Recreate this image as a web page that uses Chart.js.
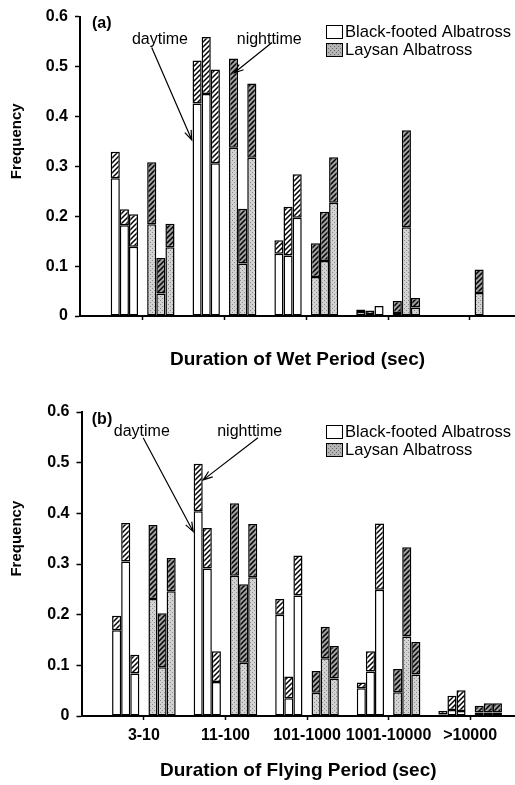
<!DOCTYPE html>
<html>
<head>
<meta charset="utf-8">
<script src="https://cdn.jsdelivr.net/npm/chart.js@4.4.1/dist/chart.umd.min.js"></script>
<style>
  body { margin: 0; background: #fff; }
  canvas { display: block; }
</style>
</head>
<body>
<canvas id="wetChart" width="515" height="380"></canvas>
<canvas id="flyChart" width="515" height="405"></canvas>
<script>
const categories = ['3-10', '11-100', '101-1000', '1001-10000', '>10000'];
const species = ['Black-footed Albatross', 'Laysan Albatross'];

// (a) wet period - full bar height (day + night), three bars per species
const wetTotalBF = [
  [0.329, 0.512, 0.152, 0.013, 0],
  [0.214, 0.559, 0.219, 0.011, 0],
  [0.204, 0.494, 0.284, 0.020, 0]
];
const wetDayBF = [
  [0.276, 0.426, 0.125, 0.008, 0],
  [0.182, 0.445, 0.121, 0.004, 0],
  [0.139, 0.306, 0.197, 0.020, 0]
];
const wetTotalLA = [
  [0.308, 0.516, 0.146, 0.030, 0.093],
  [0.116, 0.215, 0.209, 0.372, 0],
  [0.185, 0.466, 0.318, 0.036, 0]
];
const wetDayLA = [
  [0.184, 0.337, 0.078, 0.006, 0.046],
  [0.045, 0.105, 0.110, 0.178, 0],
  [0.138, 0.317, 0.227, 0.017, 0]
];

// (b) flying period
const flyTotalBF = [
  [0.198, 0.498, 0.231, 0.066, 0.010],
  [0.381, 0.371, 0.078, 0.128, 0.040],
  [0.121, 0.128, 0.317, 0.380, 0.051]
];
const flyDayBF = [
  [0.169, 0.404, 0.200, 0.055, 0.003],
  [0.305, 0.291, 0.035, 0.088, 0.012],
  [0.084, 0.067, 0.238, 0.249, 0.010]
];
const flyTotalLA = [
  [0.377, 0.420, 0.089, 0.093, 0.020],
  [0.203, 0.260, 0.176, 0.333, 0.025],
  [0.312, 0.379, 0.138, 0.146, 0.025]
];
const flyDayLA = [
  [0.231, 0.277, 0.046, 0.047, 0.007],
  [0.096, 0.105, 0.114, 0.157, 0.007],
  [0.246, 0.274, 0.074, 0.082, 0.007]
];

const FONT = '"Liberation Sans", Arial, sans-serif';
Chart.defaults.font.family = FONT;
Chart.defaults.color = '#000';

// fill patterns
function hatch(bg) {
  const c = document.createElement('canvas');
  c.width = c.height = 5;
  const g = c.getContext('2d');
  g.fillStyle = bg;
  g.fillRect(0, 0, 5, 5);
  g.strokeStyle = '#000';
  g.lineWidth = 1.5;
  g.beginPath();
  g.moveTo(-1, 6); g.lineTo(6, -1);
  g.moveTo(-1, 1); g.lineTo(1, -1);
  g.moveTo(4, 6); g.lineTo(6, 4);
  g.stroke();
  return g.createPattern(c, 'repeat');
}
function stipple(bg, dot) {
  const c = document.createElement('canvas');
  c.width = c.height = 4;
  const g = c.getContext('2d');
  g.fillStyle = bg;
  g.fillRect(0, 0, 4, 4);
  g.fillStyle = dot;
  g.fillRect(0, 0, 1, 1);
  g.fillRect(2, 2, 1, 1);
  return g.createPattern(c, 'repeat');
}
const nightBF = hatch('#ffffff');
const nightLA = hatch('#a0a0a0');
const dayLA = stipple('#d2d2d2', '#8a8a8a');
const legendLA = stipple('#b4b4b4', '#666666');

function buildDatasets(totBF, dayBF, totLA, dayLA_) {
  const sets = [];
  const addBar = (tot, day, stack, dayFill, nightFill, name) => {
    sets.push({
      label: name + ' daytime', stack, backgroundColor: dayFill,
      data: categories.map((c, i) => ({ x: i + 1, y: tot[i] ? day[i] : null }))
    });
    sets.push({
      label: name + ' nighttime', stack, backgroundColor: nightFill,
      data: categories.map((c, i) => ({ x: i + 1, y: tot[i] ? +(tot[i] - day[i]).toFixed(3) : null }))
    });
  };
  totBF.forEach((t, k) => addBar(t, dayBF[k], 'bf' + k, '#ffffff', nightBF, species[0]));
  // empty slot between the two species
  sets.push({ label: 'gap', stack: 'gap', data: categories.map((c, i) => ({ x: i + 1, y: null })) });
  totLA.forEach((t, k) => addBar(t, dayLA_[k], 'la' + k, dayLA, nightLA, species[1]));
  return sets;
}

function drawArrow(ctx, from, to) {
  ctx.beginPath();
  ctx.moveTo(from[0], from[1]);
  ctx.lineTo(to[0], to[1]);
  const a = Math.atan2(to[1] - from[1], to[0] - from[0]);
  const L = 10;
  ctx.moveTo(to[0] - L * Math.cos(a - 0.35), to[1] - L * Math.sin(a - 0.35));
  ctx.lineTo(to[0], to[1]);
  ctx.lineTo(to[0] - L * Math.cos(a + 0.35), to[1] - L * Math.sin(a + 0.35));
  ctx.stroke();
}

function notesPlugin(n) {
  return {
    id: 'notes',
    afterDraw(chart) {
      const { ctx, scales: { x, y } } = chart;
      const px = (p) => [x.getPixelForValue(p[0]), y.getPixelForValue(p[1])];
      ctx.save();
      ctx.fillStyle = '#000';
      ctx.strokeStyle = '#000';
      ctx.lineWidth = 1.2;
      ctx.textBaseline = 'middle';
      ctx.textAlign = 'left';
      ctx.font = 'bold 16px ' + FONT;
      const p = px(n.letterAt);
      ctx.fillText(n.letter, p[0], p[1]);
      ctx.font = '16px ' + FONT;
      [n.day, n.night].forEach(a => {
        const l = px(a.label);
        ctx.fillText(a.text, l[0], l[1]);
        drawArrow(ctx, px(a.from), px(a.to));
      });
      // legend
      const lg = px(n.legendAt);
      ctx.font = '16.6px ' + FONT;
      species.forEach((s, k) => {
        const bx = Math.round(lg[0]), by = Math.round(lg[1]) + k * 18;
        ctx.fillStyle = k ? legendLA : '#fff';
        ctx.fillRect(bx, by, 16, 13);
        ctx.lineWidth = 1;
        ctx.strokeRect(bx + 0.5, by + 0.5, 16, 13);
        ctx.fillStyle = '#000';
        ctx.fillText(s, bx + 19, by + 7);
      });
      // y axis title
      ctx.translate(16.5, y.getPixelForValue(0.35));
      ctx.rotate(-Math.PI / 2);
      ctx.textAlign = 'center';
      ctx.font = 'bold 15px ' + FONT;
      ctx.fillText('Frequency', 0, 0);
      ctx.restore();
    }
  };
}

function makeChart(id, datasets, cfg) {
  return new Chart(document.getElementById(id), {
    type: 'bar',
    data: { datasets },
    options: {
      responsive: false,
      animation: false,
      layout: { padding: { top: cfg.padTop, left: 0, right: 0, bottom: 0 } },
      plugins: { legend: { display: false }, tooltip: { enabled: false } },
      datasets: {
        bar: {
          barPercentage: 1,
          categoryPercentage: 0.78,
          borderColor: '#000',
          borderWidth: 1.5,
          borderSkipped: false
        }
      },
      scales: {
        x: {
          type: 'linear',
          offset: false,
          min: 0.235,
          max: 5.55,
          afterBuildTicks: s => { s.ticks = categories.map((c, i) => ({ value: i + 1 })); },
          afterFit: s => { s.height = cfg.xHeight; },
          ticks: {
            autoSkip: false, maxRotation: 0, minRotation: 0, padding: 6,
            font: { size: 16, weight: 'bold' }, color: '#000',
            callback: v => cfg.showLabels ? categories[v - 1] : ''
          },
          grid: { offset: false, drawOnChartArea: false, tickLength: 4, tickWidth: 1.5, tickColor: '#000' },
          border: { display: true, color: '#000', width: 2 },
          title: {
            display: true, text: cfg.xTitle, color: '#000',
            font: { size: 19, weight: 'bold' },
            padding: { top: 0, bottom: cfg.titlePad }
          }
        },
        y: {
          min: 0,
          max: 0.6,
          stacked: true,
          afterFit: s => { s.width = cfg.yWidth; },
          ticks: {
            stepSize: 0.1, padding: 7, color: '#000',
            font: { size: 16, weight: 'bold' },
            callback: v => v === 0 ? '0' : v.toFixed(1)
          },
          grid: { drawOnChartArea: false, tickLength: 5, tickWidth: 1.5, tickColor: '#000' },
          border: { display: true, color: '#000', width: 2 }
        }
      }
    },
    plugins: [notesPlugin(cfg.notes)]
  });
}

makeChart('wetChart', buildDatasets(wetTotalBF, wetDayBF, wetTotalLA, wetDayLA), {
  padTop: 14, xHeight: 64, yWidth: 80, titlePad: 8.5, showLabels: false,
  xTitle: 'Duration of Wet Period (sec)',
  notes: {
    letter: '(a)', letterAt: [0.382, 0.586],
    day: { text: 'daytime', label: [0.870, 0.554], from: [1.111, 0.538], to: [1.600, 0.353] },
    night: { text: 'nighttime', label: [2.150, 0.554], from: [2.581, 0.548], to: [2.117, 0.487] },
    legendAt: [3.241, 0.584]
  }
});

makeChart('flyChart', buildDatasets(flyTotalBF, flyDayBF, flyTotalLA, flyDayLA), {
  padTop: 32, xHeight: 69, yWidth: 81.5, titlePad: 3, showLabels: true,
  xTitle: 'Duration of Flying Period (sec)',
  notes: {
    letter: '(b)', letterAt: [0.361, 0.585],
    day: { text: 'daytime', label: [0.631, 0.561], from: [0.991, 0.549], to: [1.604, 0.364] },
    night: { text: 'nighttime', label: [1.899, 0.561], from: [2.398, 0.549], to: [1.727, 0.466] },
    legendAt: [3.233, 0.575]
  }
});
</script>
</body>
</html>
